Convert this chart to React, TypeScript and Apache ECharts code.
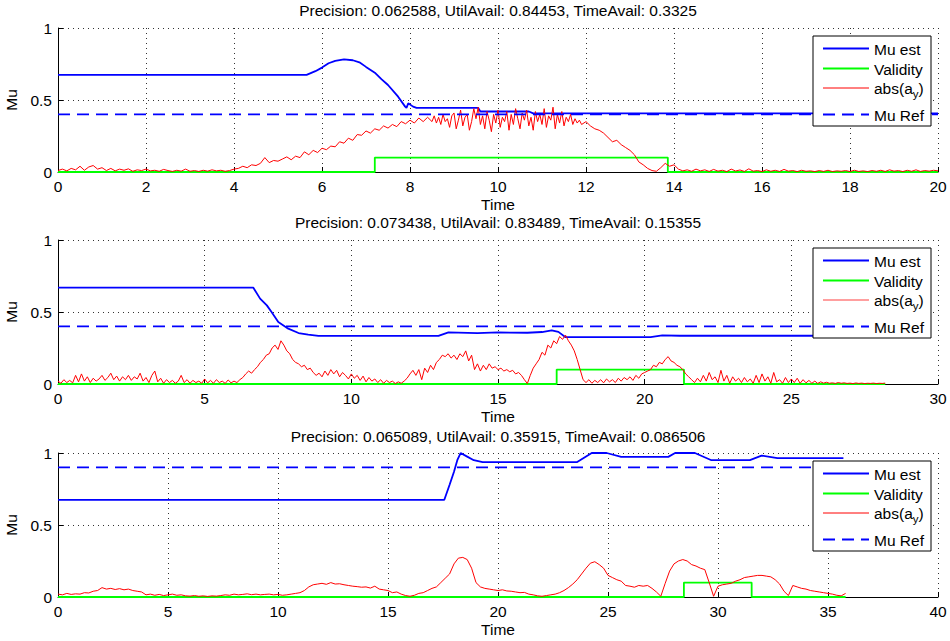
import React, { useEffect, useRef } from "react";
import * as echarts from "echarts";

const FONT = "'Liberation Sans', Arial, Helvetica, sans-serif";

// ---------- texts ----------
const titles = [
  "Precision: 0.062588, UtilAvail: 0.84453, TimeAvail: 0.3325",
  "Precision: 0.073438, UtilAvail: 0.83489, TimeAvail: 0.15355",
  "Precision: 0.065089, UtilAvail: 0.35915, TimeAvail: 0.086506",
];
const xName = "Time";
const yName = "Mu";
const legendMuEst = "Mu est";
const legendValidity = "Validity";
const legendAbsMain = "abs(a";
const legendAbsSub = "y";
const legendAbsClose = ")";
const legendMuRef = "Mu Ref";

// ---------- axes ----------
const xMax = [20, 30, 40];
const xInterval = [2, 5, 5];
const yMin = 0;
const yMax = 1;
const yInterval = 0.5;

// ---------- Mu est (time, value) ----------
const muEst1 = [
  [0, 0.674], [5.65, 0.674], [5.85, 0.7], [6.0, 0.725], [6.15, 0.755], [6.3, 0.772],
  [6.5, 0.782], [6.7, 0.776], [6.85, 0.762], [7.0, 0.73], [7.2, 0.69], [7.35, 0.645],
  [7.5, 0.604], [7.73, 0.523], [7.89, 0.454], [7.92, 0.445], [7.96, 0.477], [8.07, 0.454],
  [8.15, 0.445], [9.55, 0.445], [9.6, 0.42], [10.7, 0.42], [10.8, 0.407], [20, 0.407],
];
const muEst2 = [
  [0, 0.669], [6.66, 0.669], [6.89, 0.593], [7.12, 0.546], [7.28, 0.5], [7.51, 0.43],
  [7.85, 0.384], [8.2, 0.354], [8.53, 0.343], [8.88, 0.334], [12.97, 0.334], [13.31, 0.359],
  [14.3, 0.353], [15.0, 0.358], [16.0, 0.356], [16.5, 0.361], [16.83, 0.373], [17.06, 0.362],
  [17.29, 0.326], [20.2, 0.326], [20.6, 0.338], [21.2, 0.335], [28.2, 0.335],
];
const muEst3 = [
  [0, 0.675], [17.56, 0.675], [17.8, 0.78], [18.0, 0.87], [18.15, 0.95], [18.3, 1.0],
  [18.6, 0.975], [18.9, 0.95], [19.3, 0.937], [23.6, 0.937], [24.26, 1.0], [24.94, 1.0],
  [25.6, 0.973], [27.74, 0.973], [28.05, 1.0], [28.95, 1.0], [29.7, 0.95], [31.45, 0.95],
  [31.98, 0.982], [32.7, 0.964], [35.7, 0.964],
];

// ---------- Validity (time, value) ----------
const validity1 = [[0, 0], [7.2, 0], [7.2, 0.1], [13.86, 0.1], [13.86, 0], [20, 0]];
const validity2 = [[0, 0], [17.0, 0], [17.0, 0.1], [21.34, 0.1], [21.34, 0], [28.2, 0]];
const validity3 = [[0, 0], [28.45, 0], [28.45, 0.1], [31.53, 0.1], [31.53, 0], [35.8, 0]];

// ---------- Mu Ref ----------
const muRefValue = [0.4, 0.4, 0.9];
const muRefEnd = [20, 28.2, 35.8];

// ---------- abs(a_y): uniformly sampled segments (start time, step, values) ----------
// plot 1: 0.0 .. 8.4 step 0.1
const absAy1a = [
  0.01, 0.02, 0.008, 0.025, 0.015, 0.04, 0.012, 0.035, 0.045, 0.02, 0.03, 0.01, 0.025, 0.008, 0.02, 0.012, 0.022, 0.005, 0.015, 0.01,
  0.02, 0.008, 0.012, 0.005, 0.018, 0.01, 0.004, 0.012, 0.006, 0.02, 0.005, 0.01, 0.004, 0.012, 0.006, 0.015, 0.008, 0.012, 0.005, 0.01, 0.02,
  0.025, 0.04, 0.03, 0.05, 0.045, 0.06, 0.1, 0.065, 0.08, 0.075,
  0.09, 0.105, 0.085, 0.11, 0.1, 0.14, 0.12, 0.15, 0.135, 0.165,
  0.155, 0.18, 0.175, 0.21, 0.2, 0.235, 0.22, 0.26, 0.255, 0.285,
  0.27, 0.3, 0.29, 0.32, 0.305, 0.33, 0.315, 0.35, 0.335, 0.36,
  0.34, 0.375, 0.35, 0.38,
];
// plot 1: 8.5 .. 11.85 step 0.05
const absAy1b = [
  0.35, 0.39, 0.34, 0.38, 0.33, 0.4, 0.35, 0.37, 0.31, 0.39,
  0.41, 0.3, 0.36, 0.43, 0.32, 0.38, 0.4, 0.29, 0.35, 0.44,
  0.37, 0.45, 0.33, 0.39, 0.3, 0.42, 0.36, 0.28, 0.4, 0.34,
  0.43, 0.31, 0.38, 0.35, 0.42, 0.29, 0.4, 0.33, 0.44, 0.37,
  0.3, 0.41, 0.36, 0.43, 0.32, 0.38, 0.29, 0.42, 0.35, 0.4,
  0.33, 0.44, 0.31, 0.39, 0.36, 0.45, 0.3, 0.4, 0.34, 0.42,
  0.32, 0.38, 0.35, 0.4, 0.33, 0.37, 0.34, 0.36,
];
// plot 1: 11.9 .. 20.0 step 0.1
const absAy1c = [
  0.33, 0.35, 0.32, 0.3, 0.29, 0.27, 0.24, 0.21, 0.22, 0.19, 0.17, 0.15, 0.12, 0.07, 0.05, 0.025, 0.01, 0.005, 0.03, 0.06, 0.04, 0.05, 0.02, 0.008, 0.015,
  0.005, 0.02, 0.008, 0.015, 0.004, 0.018, 0.006, 0.012, 0.003, 0.02,
  0.007, 0.014, 0.004, 0.022, 0.006, 0.01, 0.003, 0.015, 0.005, 0.012,
  0.004, 0.018, 0.006, 0.01, 0.003, 0.012, 0.005, 0.008, 0.003, 0.01,
  0.004, 0.012, 0.003, 0.008, 0.005, 0.01, 0.003, 0.012, 0.004, 0.008,
  0.003, 0.01, 0.005, 0.012, 0.004, 0.015, 0.006, 0.01, 0.003, 0.012,
  0.005, 0.015, 0.004, 0.01, 0.006, 0.012, 0.008,
];

// plot 2: 0.0 .. 28.2 step 0.1
const absAy2 = [
  0.02, 0.005, 0.03, 0.01, 0.025, 0.008, 0.06, 0.015, 0.07, 0.02,
  0.05, 0.01, 0.04, 0.02, 0.035, 0.06, 0.025, 0.045, 0.075, 0.03,
  0.055, 0.02, 0.05, 0.03, 0.06, 0.025, 0.05, 0.035, 0.075, 0.02,
  0.045, 0.01, 0.06, 0.09, 0.015, 0.04, 0.005, 0.03, 0.01, 0.025,
  0.005, 0.02, 0.06, 0.01, 0.03, 0.005, 0.025, 0.01, 0.02, 0.005,
  0.035, 0.008, 0.025, 0.005, 0.03, 0.01, 0.02, 0.004, 0.028, 0.008, 0.02, 0.01, 0.03, 0.045,
  0.07, 0.09, 0.075, 0.1, 0.12, 0.15, 0.17, 0.2, 0.21, 0.25, 0.27, 0.24, 0.3, 0.27,
  0.23, 0.21, 0.17, 0.15, 0.14, 0.12, 0.13, 0.1, 0.11, 0.08, 0.06, 0.075, 0.05,
  0.09, 0.06, 0.1, 0.07, 0.095, 0.05, 0.08, 0.06, 0.035, 0.07,
  0.04, 0.06, 0.025, 0.055, 0.015, 0.045, 0.02, 0.035, 0.01, 0.03,
  0.005, 0.025, 0.01, 0.02, 0.003, 0.015, 0.005, 0.02, 0.04,
  0.07, 0.095, 0.06, 0.1, 0.03, 0.11, 0.08, 0.13, 0.1, 0.15,
  0.17, 0.2, 0.19, 0.21, 0.18, 0.2, 0.17, 0.21, 0.19, 0.23,
  0.16, 0.2, 0.1, 0.14, 0.09, 0.13, 0.1, 0.14, 0.11, 0.12, 0.1,
  0.11, 0.09, 0.1, 0.085, 0.095, 0.07, 0.08, 0.06, 0.03, 0.003,
  0.06, 0.11, 0.14, 0.17, 0.22, 0.2, 0.27, 0.25, 0.3, 0.28,
  0.33, 0.31, 0.34, 0.3, 0.27, 0.23, 0.17, 0.1, 0.03, 0.01,
  0.03, 0.005, 0.025, 0.01, 0.03, 0.008, 0.035, 0.015, 0.03, 0.01,
  0.04, 0.02, 0.045, 0.03, 0.05, 0.025, 0.06, 0.04, 0.07, 0.08,
  0.09, 0.1, 0.13, 0.12, 0.15, 0.14, 0.17, 0.19, 0.16, 0.15, 0.13, 0.12, 0.1, 0.07, 0.05, 0.03, 0.01, 0.04,
  0.015, 0.06, 0.02, 0.08, 0.03, 0.05, 0.01, 0.095, 0.02, 0.06,
  0.005, 0.05, 0.02, 0.04, 0.01, 0.045, 0.015, 0.035, 0.005, 0.06,
  0.01, 0.07, 0.02, 0.05, 0.005, 0.08, 0.015, 0.03, 0.005, 0.045,
  0.01, 0.035,
  0.01, 0.04, 0.005, 0.03, 0.008, 0.025, 0.005, 0.02, 0.004, 0.015, 0.006, 0.012, 0.005,
  0.008, 0.004, 0.01, 0.005, 0.008, 0.004, 0.006, 0.003, 0.007, 0.004, 0.006, 0.003, 0.005, 0.004, 0.006, 0.003, 0.005, 0.004, 0.006,
];

// plot 3: 0.0 .. 35.8 step 0.2
const absAy3 = [
  0.02, 0.015, 0.025, 0.018, 0.022, 0.02, 0.03, 0.028, 0.04, 0.045,
  0.065, 0.055, 0.06, 0.052, 0.058, 0.05, 0.055, 0.045, 0.04, 0.035,
  0.015, 0.02, 0.012, 0.018, 0.01, 0.015, 0.02, 0.012, 0.015, 0.008,
  0.006, 0.01, 0.005, 0.008, 0.004, 0.008, 0.006, 0.01, 0.015, 0.012,
  0.02, 0.015, 0.018, 0.022, 0.016, 0.02, 0.015, 0.018, 0.02, 0.015,
  0.018, 0.012, 0.015, 0.02, 0.025, 0.03, 0.045, 0.07, 0.085, 0.09,
  0.095, 0.088, 0.1, 0.09, 0.092, 0.085, 0.08, 0.075, 0.072, 0.068,
  0.07, 0.062, 0.075, 0.055, 0.05, 0.045, 0.03, 0.035, 0.02, 0.01,
  0.005, 0.012, 0.025, 0.03, 0.045, 0.06, 0.07, 0.1, 0.13, 0.16,
  0.23, 0.27, 0.275, 0.26, 0.2, 0.1, 0.07, 0.06, 0.055, 0.05,
  0.045, 0.05, 0.042, 0.04, 0.035, 0.03, 0.032, 0.02, 0.015, 0.008,
  0.005, 0.01, 0.015, 0.02, 0.03, 0.045, 0.065, 0.09, 0.12, 0.16,
  0.2, 0.235, 0.245, 0.225, 0.2, 0.15, 0.135, 0.12, 0.11, 0.08,
  0.075, 0.068, 0.08, 0.075, 0.08, 0.06, 0.035, 0.005, 0.095, 0.18,
  0.23, 0.25, 0.26, 0.25, 0.225, 0.215, 0.2, 0.19, 0.1, 0.005,
  0.075, 0.085, 0.09, 0.095, 0.11, 0.12, 0.135, 0.14, 0.145, 0.15,
  0.15, 0.145, 0.14, 0.12, 0.09, 0.04, 0.01, 0.08, 0.07, 0.06,
  0.055, 0.045, 0.04, 0.035, 0.03, 0.025, 0.02, 0.012, 0.008, 0.025,
];

// ---------- layout (pixels) ----------
const GRID_LEFT = 58;
const GRID_RIGHT = 12;
const GRID_TOPS = [28, 240, 453];
const GRID_H = 144;
const TITLE_Y = [10.5, 222.5, 436];
const LEG_X = 813;
const LEG_W = 118;
const LEG_H = 90;
const LEG_TOPS = [36, 248, 461];
const LEG_ROWS = [12.5, 32.5, 52, 78.5];
const FS = 15.5;

const BLUE = "#0000ff";
const GREEN = "#00ff00";
const RED = "#ff0000";

function sampled(values: number[], dt: number, t0 = 0) {
  return values.map((v, i) => [Math.round((t0 + i * dt) * 1000) / 1000, v]);
}

export default function App() {
  const ref = useRef<HTMLDivElement>(null);

  useEffect(() => {
    if (!ref.current) return;
    const chart = echarts.init(ref.current, undefined, { renderer: "svg" });

    const muEst = [muEst1, muEst2, muEst3];
    const validity = [validity1, validity2, validity3];
    const absAy = [
      [...sampled(absAy1a, 0.1, 0), ...sampled(absAy1b, 0.05, 8.5), ...sampled(absAy1c, 0.1, 11.9)],
      sampled(absAy2, 0.1, 0),
      sampled(absAy3, 0.2, 0),
    ];

    const grids = GRID_TOPS.map((top) => ({
      left: GRID_LEFT,
      right: GRID_RIGHT,
      top,
      height: GRID_H,
      containLabel: false,
      outerBoundsMode: "none",
    }));

    const dotted = { color: "#333", width: 1, type: [1, 4] as number[] };

    const xAxes = [0, 1, 2].map((p) => ({
      type: "value",
      gridIndex: p,
      min: 0,
      max: xMax[p],
      interval: xInterval[p],
      name: xName,
      nameLocation: "middle",
      nameGap: 24,
      nameTextStyle: { fontSize: FS, color: "#000", fontFamily: FONT },
      axisLine: { show: true, onZero: false, lineStyle: { color: "#000", width: 1 } },
      axisTick: { show: true, inside: true, length: 5, lineStyle: { color: "#000" } },
      axisLabel: { fontSize: FS, color: "#000", fontFamily: FONT, margin: 6 },
      splitLine: { show: true, lineStyle: dotted },
    }));

    const yAxes = [0, 1, 2].map((p) => ({
      type: "value",
      gridIndex: p,
      min: yMin,
      max: yMax,
      interval: yInterval,
      name: yName,
      nameLocation: "middle",
      nameRotate: 90,
      nameGap: 30,
      nameTextStyle: { fontSize: FS, color: "#000", fontFamily: FONT },
      axisLine: { show: true, onZero: false, lineStyle: { color: "#000", width: 1 } },
      axisTick: { show: true, inside: true, length: 5, lineStyle: { color: "#000" } },
      axisLabel: { fontSize: FS, color: "#000", fontFamily: FONT, margin: 6 },
      splitLine: { show: true, lineStyle: dotted },
    }));

    const series: any[] = [];
    for (let p = 0; p < 3; p++) {
      const base = { type: "line", xAxisIndex: p, yAxisIndex: p, symbol: "none", showSymbol: false, silent: true, animation: false };
      series.push({ ...base, name: legendMuEst, data: muEst[p], lineStyle: { color: BLUE, width: 1.8 }, z: 3 });
      series.push({ ...base, name: legendValidity, data: validity[p], lineStyle: { color: GREEN, width: 1.8 }, z: 4 });
      series.push({ ...base, name: "abs(a_y)", data: absAy[p], lineStyle: { color: RED, width: 1 }, z: 5 });
      series.push({
        ...base,
        name: legendMuRef,
        data: [[0, muRefValue[p]], [muRefEnd[p], muRefValue[p]]],
        lineStyle: { color: BLUE, width: 1.8, type: [12, 7] },
        z: 6,
      });
    }

    const graphics: any[] = [];
    const plotCenter = GRID_LEFT + (950 - GRID_LEFT - GRID_RIGHT) / 2;
    const ZL = 100;
    for (let p = 0; p < 3; p++) {
      graphics.push({
        type: "text",
        x: plotCenter,
        y: TITLE_Y[p],
        z: ZL,
        style: { text: titles[p], fontSize: FS, fontFamily: FONT, fill: "#000", align: "center", verticalAlign: "middle" },
      });
      const top = LEG_TOPS[p];
      graphics.push({
        type: "rect",
        z: ZL,
        shape: { x: LEG_X, y: top, width: LEG_W, height: LEG_H },
        style: { fill: "#fff", stroke: "#000", lineWidth: 1 },
      });
      const rows = [
        { color: BLUE, width: 1.8, dash: null as number[] | null, label: legendMuEst },
        { color: GREEN, width: 1.8, dash: null, label: legendValidity },
        { color: p === 1 ? "#ff7f7f" : RED, width: p === 1 ? 1.6 : 1, dash: null, label: null as string | null },
        { color: BLUE, width: 1.8, dash: [12, 7], label: legendMuRef },
      ];
      rows.forEach((r, i) => {
        const yy = top + LEG_ROWS[i];
        graphics.push({
          type: "line",
          z: ZL + 1,
          shape: { x1: LEG_X + 10, y1: yy, x2: LEG_X + 56, y2: yy },
          style: { stroke: r.color, lineWidth: r.width, lineDash: r.dash || undefined },
        });
        const tx = LEG_X + 61;
        if (r.label) {
          graphics.push({
            type: "text",
            z: ZL + 1,
            x: tx,
            y: yy + 0.5,
            style: { text: r.label, fontSize: FS, fontFamily: FONT, fill: "#000", align: "left", verticalAlign: "middle" },
          });
        } else {
          graphics.push({
            type: "text",
            z: ZL + 1,
            x: tx,
            y: yy,
            style: { text: legendAbsMain, fontSize: FS, fontFamily: FONT, fill: "#000", align: "left", verticalAlign: "middle" },
          });
          graphics.push({
            type: "text",
            z: ZL + 1,
            x: tx + 38.8,
            y: yy + 6,
            style: { text: legendAbsSub, fontSize: 11.5, fontFamily: FONT, fill: "#000", align: "left", verticalAlign: "middle" },
          });
          graphics.push({
            type: "text",
            z: ZL + 1,
            x: tx + 38.8 + 5.8,
            y: yy,
            style: { text: legendAbsClose, fontSize: FS, fontFamily: FONT, fill: "#000", align: "left", verticalAlign: "middle" },
          });
        }
      });
    }

    chart.setOption({
      animation: false,
      backgroundColor: "#fff",
      textStyle: { fontFamily: FONT },
      grid: grids,
      xAxis: xAxes,
      yAxis: yAxes,
      series,
      graphic: graphics,
    });

    return () => chart.dispose();
  }, []);

  return (
    <div
      ref={ref}
      style={{ position: "absolute", left: 0, top: 0, width: 950, height: 641 }}
    />
  );
}
